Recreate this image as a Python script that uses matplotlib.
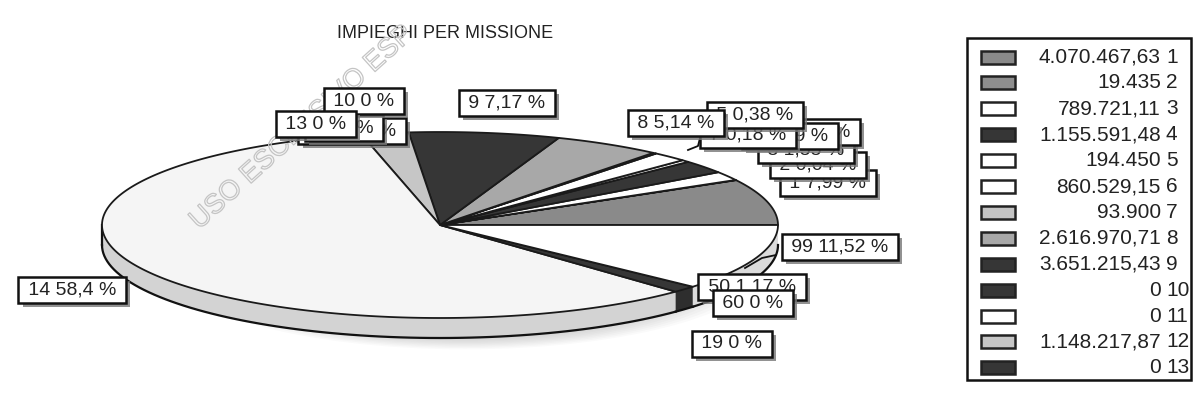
import matplotlib.pyplot as plt
import matplotlib.patheffects as pe
import numpy as np
from matplotlib.patches import Polygon, Rectangle, Ellipse

plt.rcParams['font.family'] = ['Liberation Sans', 'DejaVu Sans']

title = "IMPIEGHI PER MISSIONE"

# legenda: importi delle missioni 1..13
legend_ids = [1, 2, 3, 4, 5, 6, 7, 8, 9, 10, 11, 12, 13]
legend_values = [4070467.63, 19435, 789721.11, 1155591.48, 194450, 860529.15,
                 93900, 2616970.71, 3651215.43, 0, 0, 1148217.87, 0]

pie_ids = [1, 2, 3, 4, 5, 6, 7, 8, 9, 10, 11, 12, 13, 14, 19, 50, 60, 99]
pie_pct = [7.99, 0.04, 1.55, 2.27, 0.38, 1.69, 0.18, 5.14, 7.17, 0, 0, 2.25, 0,
           58.4, 0, 1.17, 0, 11.52]

colors = {1: '#8a8a8a', 2: '#8e8e8e', 3: '#ffffff', 4: '#363636', 5: '#ffffff',
          6: '#ffffff', 7: '#c4c4c4', 8: '#a8a8a8', 9: '#363636', 10: '#363636',
          11: '#ffffff', 12: '#c6c6c6', 13: '#363636', 14: '#f5f5f5',
          19: '#ffffff', 50: '#363636', 60: '#ffffff', 99: '#ffffff'}

# label positions (pixel coords), drawn in this order
label_pos = [(12, 352, 131), (11, 344, 128), (10, 364, 101), (13, 316, 124),
             (1, 828, 183), (2, 818, 165), (3, 806, 150), (4, 812, 132),
             (6, 790, 136), (7, 748, 135), (5, 755, 115), (8, 676, 123),
             (9, 507, 103), (14, 72, 290), (99, 840, 247),
             (50, 752, 287), (60, 753, 303), (19, 732, 344)]


def fmt_it(v):
    if v == int(v):
        s = f"{int(v):,}"
    else:
        s = f"{v:,.2f}"
    return s.replace(",", "X").replace(".", ",").replace("X", ".")


def fmt_pct(p):
    return f"{p:.2f}".rstrip("0").rstrip(".").replace(".", ",")


def shade(c, f):
    rgb = np.array(plt.matplotlib.colors.to_rgb(c))
    return tuple(rgb * f)


fig = plt.figure(figsize=(11.95, 4.12), dpi=100)
ax = fig.add_axes([0, 0, 1, 1])
ax.set_xlim(0, 1195)
ax.set_ylim(412, 0)
ax.axis('off')

# pie geometry
cx, cy = 440, 225
rx, ry = 338, 93
depth = 20


def pt(t):
    return np.column_stack([cx + rx * np.cos(t), cy - ry * np.sin(t)])


# soft shadow under the pie
for k in range(12):
    ax.add_patch(Ellipse((cx + 25, cy + depth + 16 + k * 1.5), 2 * rx * (0.9 - k * 0.025),
                         2 * ry * (0.95 - k * 0.03), color='#808080', alpha=0.04,
                         lw=0, zorder=0))

fr = np.array(pie_pct) / np.sum(pie_pct)
bounds = np.concatenate([[0], np.cumsum(fr)]) * 2 * np.pi

# side wall (front half)
for i, sid in enumerate(pie_ids):
    lo, hi = max(bounds[i], np.pi), min(bounds[i + 1], 2 * np.pi)
    if hi <= lo:
        continue
    t = np.linspace(lo, hi, 80)
    top = pt(t)
    bot = top + [0, depth]
    poly = np.vstack([top, bot[::-1]])
    ax.add_patch(Polygon(poly, closed=True, fc=shade(colors[sid], 0.86), ec='none', zorder=1))
    ax.plot(bot[:, 0], bot[:, 1], color='#111111', lw=1.6, zorder=2)

p = pt(np.array([np.pi]))[0]
ax.plot([p[0], p[0]], [p[1], p[1] + depth], color='#111111', lw=1.6, zorder=2)

# top slices
for i, sid in enumerate(pie_ids):
    if fr[i] == 0:
        continue
    t = np.linspace(bounds[i], bounds[i + 1], max(int(fr[i] * 400), 3))
    poly = np.vstack([[cx, cy], pt(t)])
    ax.add_patch(Polygon(poly, closed=True, fc=colors[sid], ec='#1a1a1a', lw=1.3,
                         joinstyle='round', zorder=3))

# watermark
ax.text(302, 128, "USO ESCLUSIVO ESP", rotation=42, ha='center', va='center',
        fontsize=20, color='none', zorder=5,
        path_effects=[pe.withStroke(linewidth=0.9, foreground='#c4c4c4')])

# leader lines
ax.plot([776, 762, 745], [255, 258, 268], color='#111111', lw=1.3, zorder=4)
ax.plot([700, 698, 688], [138, 146, 150], color='#111111', lw=1.3, zorder=4)

# labels
pct_by_id = dict(zip(pie_ids, pie_pct))
for z, (sid, x, y) in enumerate(label_pos):
    txt = ax.text(x, y, f" {sid} {fmt_pct(pct_by_id[sid])} % ", ha='center', va='center',
                  fontsize=14, color='#222222', zorder=10 + z,
                  bbox=dict(boxstyle='square,pad=0.22', fc='white', ec='#111111', lw=1.8))
    txt.get_bbox_patch().set_path_effects([
        pe.SimplePatchShadow(offset=(3, -3), shadow_rgbFace='#777777', alpha=0.8),
        pe.Normal()])

# title
ax.text(445, 33, title, ha='center', va='center', fontsize=13, color='#222222')

# legend
ax.add_patch(Rectangle((967, 38), 224, 342, fc='white', ec='#111111', lw=1.8, zorder=40))
row0, dy = 57, 25.9
for k, (lid, val) in enumerate(zip(legend_ids, legend_values)):
    y = row0 + k * dy
    ax.add_patch(Rectangle((981, y - 6.5), 34, 13, fc=colors[lid], ec='#222222',
                           lw=1.8, zorder=41))
    ax.text(1161, y, fmt_it(val), ha='right', va='center', fontsize=15,
            color='#222222', zorder=41)
    ax.text(1166, y, str(lid), ha='left', va='center', fontsize=15,
            color='#222222', zorder=41)

fig.savefig('out.png', dpi=100)
